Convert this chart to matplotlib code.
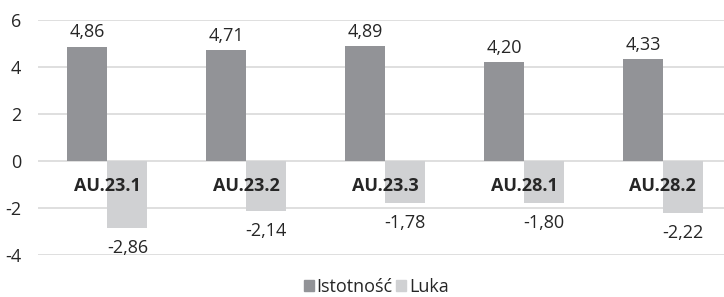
import matplotlib
matplotlib.use("Agg")
import matplotlib.pyplot as plt
import numpy as np
from matplotlib.patches import Patch

categories = ["AU.23.1", "AU.23.2", "AU.23.3", "AU.28.1", "AU.28.2"]
istotnosc = [4.86, 4.71, 4.89, 4.20, 4.33]
luka = [-2.86, -2.14, -1.78, -1.80, -2.22]
series_names = ["Istotność", "Luka"]
yticks = [-4, -2, 0, 2, 4, 6]

plt.rcParams['font.family'] = ['Open Sans', 'DejaVu Sans']
dark = "#929397"
light = "#d0d1d3"
txt = "#262626"
fs = 13

fig = plt.figure(figsize=(7.24, 2.97), dpi=100)
ax = fig.add_axes([38/724, 42/297, 686/724, 235/297])

x = np.arange(len(categories))
w = 0.288
ax.bar(x - w/2, istotnosc, w, color=dark, zorder=2)
ax.bar(x + w/2, luka, w, color=light, zorder=2)

for xi, v in zip(x, istotnosc):
    ax.annotate(f"{v:.2f}".replace(".", ","), (xi - w/2, v), xytext=(0, 4),
                textcoords="offset points", ha="center", va="bottom",
                fontsize=fs, color=txt)
for xi, v in zip(x, luka):
    ax.annotate(f"{v:.2f}".replace(".", ","), (xi + w/2, v), xytext=(0, -8),
                textcoords="offset points", ha="center", va="top",
                fontsize=fs, color=txt)
for xi, c in zip(x, categories):
    ax.annotate(c, (xi, 0), xytext=(0, -18), textcoords="offset points",
                ha="center", va="center", fontsize=fs, fontweight="bold",
                color=txt, zorder=5)

ax.set_xlim(-0.5, 4.44)
ax.set_ylim(-4, 6)
ax.set_yticks(yticks)
ax.set_yticklabels([str(t) for t in yticks], fontsize=fs, color=txt)
ax.set_xticks([])
ax.tick_params(axis="y", length=0, pad=12)
ax.grid(axis="y", color="#d9d9d9", linewidth=1.2, zorder=0)
for s in ax.spines.values():
    s.set_visible(False)

handles = [Patch(color=dark), Patch(color=light)]
fig.legend(handles, series_names, loc="center", bbox_to_anchor=(0.52, 0.035),
           ncol=2, frameon=False, fontsize=fs, handlelength=0.55, handleheight=0.55,
           handletextpad=0.15, columnspacing=0.2, labelcolor=txt)

fig.savefig("out.png", dpi=100)
